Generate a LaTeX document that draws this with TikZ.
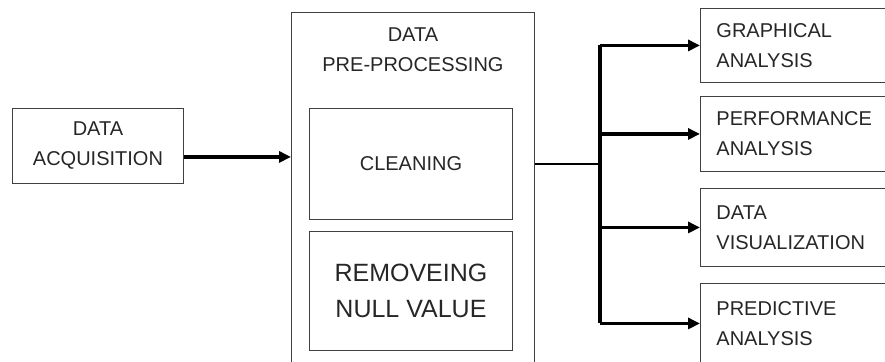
\documentclass[tikz,border=0pt]{standalone}
\usepackage{fontspec}
\setmainfont{Liberation Sans}
\usetikzlibrary{arrows.meta,positioning}

\begin{document}
\begin{tikzpicture}[
    x=1pt, y=-1pt,
    box/.style={rectangle, draw=black!75, line width=0.9pt, inner sep=0pt, text=black!85, font=\fontsize{20}{30}\selectfont},
    sidebox/.style={box, anchor=north west, minimum width=200pt, text width=168pt, inner xsep=16pt, align=left},
    bigtext/.style={font=\fontsize{25}{36}\selectfont},
    link/.style={line width=3.1pt, -{Triangle[length=12pt,width=11pt]}},
    trunk/.style={line width=3.1pt},
    ]
    \useasboundingbox (0,0) rectangle (885,361);

    % left input
    \node[box, anchor=north west, minimum width=171pt, minimum height=75pt, align=center] (acq) at (12,108) {DATA\\ACQUISITION};

    % pre-processing block
    \node[box, anchor=north west, minimum width=243pt, minimum height=370pt] (pre) at (291,12) {};
    \node[text=black!85, font=\fontsize{20}{30}\selectfont, align=center, inner sep=0pt, below=16pt of pre.north] (pretitle) {DATA\\PRE-PROCESSING};
    \node[box, anchor=north west, minimum width=203pt, minimum height=111pt] (clean) at (309,108) {CLEANING};
    \node[box, bigtext, anchor=north west, minimum width=203pt, minimum height=119pt, align=center] (nullval) at (309,231) {REMOVEING\\NULL VALUE};

    % outputs
    \node[sidebox, minimum height=74pt] (graph) at (700,8) {GRAPHICAL\\ANALYSIS};
    \node[sidebox, minimum height=75pt] (perf) at (700,96) {PERFORMANCE\\ANALYSIS};
    \node[sidebox, minimum height=78pt] (vis) at (700,188) {DATA\\VISUALIZATION};
    \node[sidebox, minimum height=80pt] (pred) at (700,283) {PREDICTIVE\\ANALYSIS};

    \coordinate (acqout) at ([yshift=-11pt]acq.east);
    \coordinate (split) at (600,0);

    \draw[link] (acqout) -- (acqout -| pre.west);
    \draw[line width=2pt] (pre.east |- clean.center) -- (split |- clean.center);
    \draw[trunk] (split |- graph.west) -- (split |- pred.west);
    \foreach \n in {graph,perf,vis,pred}
      \draw[link] (split |- \n.west) -- (\n.west);

\end{tikzpicture}
\end{document}
